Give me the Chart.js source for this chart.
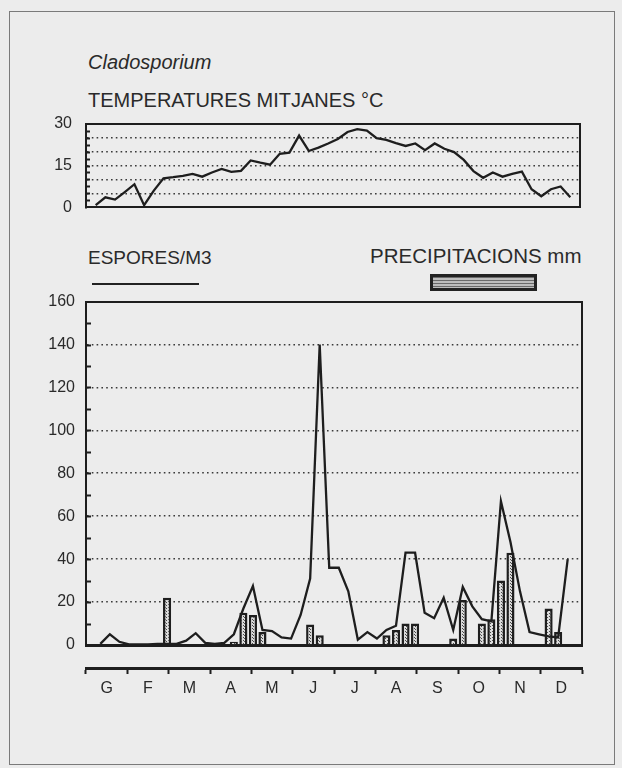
<!DOCTYPE html>
<html lang="ca">
<head>
  <meta charset="UTF-8">
  <script src="https://cdn.jsdelivr.net/npm/chart.js"></script>
  <title>Cladosporium</title>
  <style>
    body { margin: 0; width: 622px; height: 768px; overflow: hidden; background: #ececec; font-family: 'Liberation Sans', Arial, sans-serif; color: #2a2a2a; }
    .marc { position: absolute; left: 9px; top: 11px; width: 604px; height: 752px; border: 1.5px solid #7a7a7a; }
    .txt { position: absolute; white-space: nowrap; line-height: 20px; }
    canvas { position: absolute; left: 0; }
  </style>
</head>
<body>
  <div class="marc"></div>
  <div class="txt" style="left:88px; top:52px; font-size:20px; font-style:italic;">Cladosporium</div>
  <div class="txt" style="left:88px; top:90px; font-size:20px;">TEMPERATURES MITJANES °C</div>
  <div class="txt" style="left:88px; top:248px; font-size:19px;">ESPORES/M3</div>
  <div class="txt" style="left:370px; top:246px; font-size:20.5px;">PRECIPITACIONS mm</div>
  <div style="position:absolute; left:92px; top:283px; width:107px; height:2px; background:#222;"></div>
  <div style="position:absolute; left:430px; top:274px; width:101px; height:11px; border:3px solid #222; background:repeating-linear-gradient(#6a6a6a 0 1px, #bdbdbd 1px 3px);"></div>

  <canvas id="grafTemp" width="600" height="131" style="top:100px"></canvas>
  <canvas id="grafEspores" width="600" height="429" style="top:281px"></canvas>

  <script>
    // 52 setmanes de l'any
    const setmanes = Array.from({ length: 52 }, (_, i) => String(i + 1));
    const mesos = ['G', 'F', 'M', 'A', 'M', 'J', 'J', 'A', 'S', 'O', 'N', 'D'];
    const ticksTemp = [0, 5, 10, 15, 20, 25, 30];

    const temperatures = [null, 0.8, 3.6, 2.8, 5.5, 8.3, 0.8, 6, 10.4, 10.8, 11.3, 12, 11, 12.5, 13.8, 12.7, 13.1, 16.8, 16, 15.3,
      19.2, 19.6, 25.7, 20.2, 21.4, 22.9, 24.5, 27, 28, 27.5, 24.8, 24.2, 23, 22, 22.9, 20.5, 22.9, 21, 19.8, 17,
      13, 10.6, 12.5, 11, 12, 12.8, 6.5, 4, 6.5, 7.5, 3.6, null];

    const espores = [null, 0.5, 5, 1.5, 0.3, 0.3, 0.3, 0.5, 0.5, 0.5, 2, 5.5, 1, 0.5, 1, 5, 17, 27.5, 7, 6.5,
      3.5, 3, 14, 31, 140, 36, 36, 25, 2.5, 6, 3, 7, 9, 43, 43, 15, 12.5, 22, 7, 27,
      18, 12, 11, 67, 48, 25, 6, 5, 4, 3.5, 40, null];

    const precipitacions = [null, null, null, null, null, null, null, null, 22, null, null, null, null, null, null, 1.5, 15, 14, 6, null,
      null, null, null, 9.5, 4.5, null, null, null, null, null, null, 4.5, 7, 10, 10, null, null, null, 3, 21,
      null, 10, 12, 30, 43, null, null, null, 17, 6, null, null];

    const font = { family: "'Liberation Sans', Arial, sans-serif", size: 16 };
    const negre = '#1e1e1e';

    // trama de punts per a les barres
    const trama = (() => {
      const c = document.createElement('canvas');
      c.width = 3; c.height = 3;
      const g = c.getContext('2d');
      g.fillStyle = '#dcdcdc'; g.fillRect(0, 0, 3, 3);
      g.fillStyle = '#4a4a4a'; g.fillRect(1, 0, 1, 1); g.fillRect(0, 2, 1, 1);
      return g.createPattern(c, 'repeat');
    })();

    // petites marques a l'interior de l'eix vertical
    const marquesY = {
      id: 'marquesY',
      afterDraw(chart, args, o) {
        const y = chart.scales.y, ctx = chart.ctx, left = chart.chartArea.left;
        ctx.save();
        ctx.strokeStyle = negre; ctx.lineWidth = 2;
        for (let v = o.pas; v < y.max; v += o.pas) {
          const py = Math.round(y.getPixelForValue(v)) + 0.5;
          ctx.beginPath(); ctx.moveTo(left, py); ctx.lineTo(left + o.llarg, py); ctx.stroke();
        }
        ctx.restore();
      }
    };

    const mida = (w, h) => (s) => {
      if (w !== null) s.width = w;
      if (h !== null) s.height = h;
    };

    const graella = (max) => ({
      drawTicks: false,
      lineWidth: 1.6,
      color: (c) => (c.tick && (c.tick.value === 0 || c.tick.value === max)) ? 'rgba(0,0,0,0)' : '#3a3a3a'
    });

    const vora = (w) => ({ color: negre, width: w });

    new Chart(document.getElementById('grafTemp'), {
      type: 'line',
      data: {
        labels: setmanes,
        datasets: [{
          data: temperatures,
          borderColor: negre,
          borderWidth: 2.3,
          pointRadius: 0,
          tension: 0
        }]
      },
      options: {
        responsive: false,
        animation: false,
        devicePixelRatio: 1,
        plugins: { legend: { display: false }, tooltip: { enabled: false }, marquesY: { pas: 2.5, llarg: 4 } },
        scales: {
          x: { grid: { display: false }, ticks: { display: false }, border: vora(2), afterFit: mida(null, 13) },
          xTop: { axis: 'x', position: 'top', grid: { display: false }, ticks: { display: false }, border: vora(2), afterFit: mida(null, 14) },
          y: {
            min: 0, max: 30,
            afterBuildTicks: (s) => { s.ticks = ticksTemp.map((v) => ({ value: v })); },
            ticks: { autoSkip: false, padding: 14, color: '#2a2a2a', font, callback: (v) => v % 15 === 0 ? v : '' },
            grid: graella(30),
            border: { color: negre, width: 2, dash: [1.6, 3.2] },
            afterFit: mida(86, null)
          },
          yRight: { axis: 'y', type: 'linear', position: 'right', min: 0, max: 1, grid: { display: false }, ticks: { display: false }, border: vora(2), afterFit: mida(20, null) }
        }
      },
      plugins: [marquesY]
    });

    new Chart(document.getElementById('grafEspores'), {
      data: {
        labels: setmanes,
        datasets: [
          {
            type: 'line',
            label: 'ESPORES/M3',
            data: espores,
            borderColor: negre,
            borderWidth: 2.3,
            pointRadius: 0,
            tension: 0,
            order: 0
          },
          {
            type: 'bar',
            label: 'PRECIPITACIONS mm',
            data: precipitacions,
            backgroundColor: trama,
            borderColor: negre,
            borderWidth: 2.5,
            barPercentage: 0.85,
            categoryPercentage: 1,
            order: 1
          }
        ]
      },
      options: {
        responsive: false,
        animation: false,
        devicePixelRatio: 1,
        plugins: { legend: { display: false }, tooltip: { enabled: false }, marquesY: { pas: 10, llarg: 5 } },
        scales: {
          x: { grid: { display: false }, ticks: { display: false }, border: vora(3), afterFit: mida(null, 23) },
          xMes: {
            axis: 'x', type: 'linear', position: 'bottom', weight: 1,
            min: 0, max: 12,
            afterBuildTicks: (s) => { s.ticks = mesos.map((_, i) => ({ value: i + 0.5 })); },
            ticks: { autoSkip: false, maxRotation: 0, padding: 5, color: '#2a2a2a', font, callback: (v, i) => mesos[i] },
            grid: { offset: true, drawOnChartArea: false, tickLength: 6, tickWidth: 2, tickColor: negre },
            border: vora(3),
            afterFit: mida(null, 42)
          },
          xTop: { axis: 'x', position: 'top', grid: { display: false }, ticks: { display: false }, border: vora(2), afterFit: mida(null, 12) },
          y: {
            min: 0, max: 160,
            ticks: { stepSize: 20, padding: 11, color: '#2a2a2a', font },
            grid: graella(160),
            border: { color: negre, width: 2, dash: [1.6, 3.2] },
            afterFit: mida(86, null)
          },
          yRight: { axis: 'y', type: 'linear', position: 'right', min: 0, max: 1, grid: { display: false }, ticks: { display: false }, border: vora(2), afterFit: mida(18, null) }
        }
      },
      plugins: [marquesY]
    });
  </script>
</body>
</html>
